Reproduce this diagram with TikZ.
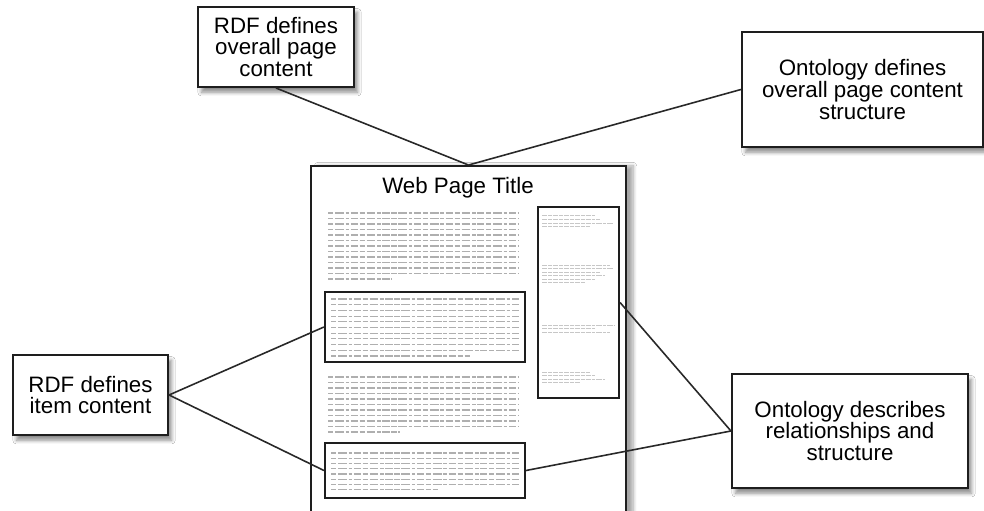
\documentclass[tikz,border=0pt]{standalone}
\usepackage{fontspec}
\setmainfont{Liberation Sans}
\usetikzlibrary{positioning,shadows.blur}
\definecolor{bordercolor}{RGB}{30,30,30}
\definecolor{fillercolor}{RGB}{175,175,175}
\definecolor{linkcolor}{RGB}{40,40,40}
\tikzset{
    callout/.style={
        rectangle,
        draw=bordercolor,
        line width=1.2pt,
        fill=white,
        align=center,
        inner sep=0pt,
        font=\fontsize{12.7}{12.4}\selectfont,
        blur shadow={shadow xshift=2pt, shadow yshift=-3pt, shadow blur steps=6, shadow opacity=45}
    },
    pageframe/.style={
        rectangle,
        draw=bordercolor,
        line width=1.1pt,
        fill=white,
        inner sep=0pt,
        blur shadow={shadow xshift=4pt, shadow yshift=0pt, shadow blur steps=8, shadow opacity=35}
    },
    block/.style={rectangle, draw=bordercolor, line width=1.2pt, inner sep=0pt},
    filler/.style={draw=fillercolor, line width=0.6pt,
        dash pattern=on 3pt off 1pt on 5pt off 1pt on 2pt off 1pt on 4pt off 1pt},
    tinyfiller/.style={draw=fillercolor!70, line width=0.35pt,
        dash pattern=on 3pt off 0.6pt on 2pt off 0.6pt},
    link/.style={draw=linkcolor, line width=0.9pt}
}
\begin{document}
\begin{tikzpicture}
    \fill[white] (0,0) rectangle (19.68,10.22);
    \useasboundingbox (0,0) rectangle (19.68,10.22);

    % Web page
    \node[pageframe, minimum width=6.3cm, minimum height=7.4cm] (page) at (9.37,3.2) {};
    \node[font=\fontsize{12.7}{13}\selectfont] (title) at (9.16,6.46) {Web Page Title};

    % Page blocks
    \node[block, minimum width=4cm, minimum height=1.4cm] (block1) at (8.5,3.68) {};
    \node[block, minimum width=4cm, minimum height=1.1cm] (block2) at (8.5,0.81) {};
    \node[block, minimum width=1.62cm, minimum height=3.82cm] (sidebar) at (11.57,4.17) {};

    % Filler text
    \foreach \i in {0,...,11}
        \draw[filler] (6.56,5.96-\i*0.11) -- (10.36,5.96-\i*0.11);
    \draw[filler] (6.56,4.64) -- (7.84,4.64);
    \foreach \i in {0,...,9}
        \draw[filler] (6.62,4.24-\i*0.114) -- (10.38,4.24-\i*0.114);
    \draw[filler] (6.62,3.10) -- (9.4,3.10);
    \foreach \i in {0,...,9}
        \draw[filler] (6.56,2.68-\i*0.11) -- (10.36,2.68-\i*0.11);
    \draw[filler] (6.56,1.58) -- (8.0,1.58);
    \foreach \i in {0,...,6}
        \draw[filler] (6.62,1.16-\i*0.105) -- (10.38,1.16-\i*0.105);
    \draw[filler] (6.62,0.425) -- (8.76,0.425);

    % Sidebar text
    \foreach \y/\x in {5.92/11.9, 5.84/12.0, 5.76/12.25, 5.70/11.8,
                       4.92/12.2, 4.85/12.25, 4.78/12.0, 4.71/12.1, 4.64/11.9, 4.57/11.7,
                       3.72/12.3, 3.65/11.9, 3.58/12.2,
                       2.78/11.8, 2.71/11.9, 2.64/12.1, 2.57/11.6}
        \draw[tinyfiller] (10.84,\y) -- (\x,\y);

    % Callouts
    \node[callout, minimum width=3.12cm, minimum height=1.6cm] (rdfpage) at (5.52,9.28)
          {RDF defines\\overall page\\content};
    \node[callout, minimum width=4.82cm, minimum height=2.3cm] (ontpage) at (17.25,8.43)
          {Ontology defines\\overall page content\\structure};
    \node[callout, minimum width=3.1cm, minimum height=1.6cm] (rdfitem) at (1.81,2.32)
          {RDF defines\\item content};
    \node[callout, minimum width=4.72cm, minimum height=2.28cm] (ontrel) at (17.0,1.6)
          {Ontology describes\\relationships and\\structure};

    % Links
    \draw[link] (rdfpage.south) -- (page.north);
    \draw[link] (ontpage.west) -- (page.north);
    \draw[link] (rdfitem.east) -- (block1.west);
    \draw[link] (rdfitem.east) -- (block2.west);
    \draw[link] (ontrel.west) -- (sidebar.east);
    \draw[link] (ontrel.west) -- (block2.east);
\end{tikzpicture}
\end{document}
